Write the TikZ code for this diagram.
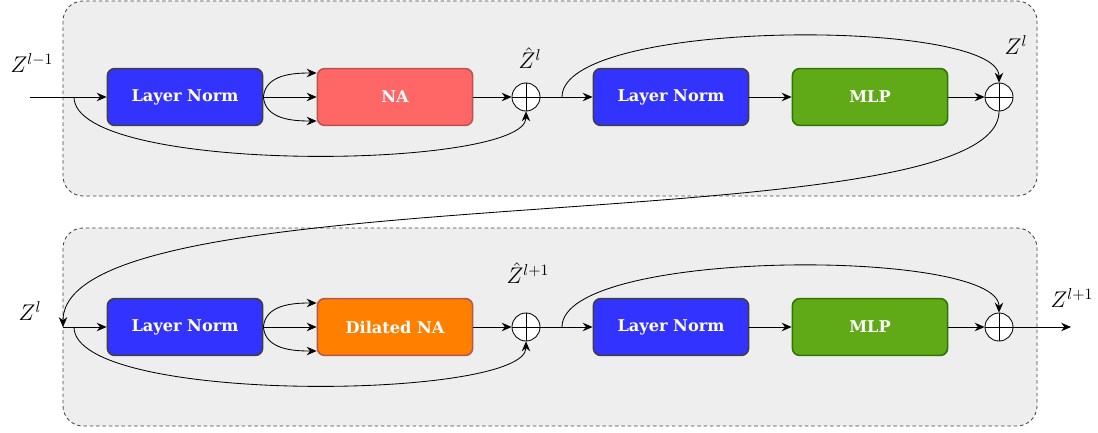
\documentclass[tikz,border=0pt]{standalone}
\usepackage{fontspec}
\newfontfamily\blockfont{DejaVu Serif}
\usetikzlibrary{arrows.meta}
\definecolor{lnfill}{HTML}{3333FF}
\definecolor{lnline}{HTML}{3F3F3F}
\definecolor{nafill}{HTML}{FF6666}
\definecolor{naline}{HTML}{B85450}
\definecolor{dnafill}{HTML}{FF8000}
\definecolor{mlpfill}{HTML}{60A917}
\definecolor{mlpline}{HTML}{2D7600}
\definecolor{panelfill}{HTML}{EEEEEE}
\definecolor{panelline}{HTML}{444444}
\tikzset{
  block/.style={rounded corners=0.18cm, line width=1.1pt, minimum width=3.88cm,
    minimum height=1.42cm, text=white, inner sep=0pt,
    font=\blockfont\bfseries\fontsize{11.5}{14}\selectfont},
  lnblock/.style={block, draw=lnline, fill=lnfill},
  nablock/.style={block, draw=naline, fill=nafill},
  dnablock/.style={block, draw=naline, fill=dnafill},
  mlpblock/.style={block, draw=mlpline, fill=mlpfill},
  plusnode/.style={circle, draw, fill=white, line width=0.6pt, minimum size=0.7cm, inner sep=0pt},
  panel/.style={draw=panelline, fill=panelfill, dash pattern=on 2.5pt off 2pt,
    line width=0.6pt, rounded corners=0.5cm},
  conn/.style={line width=0.6pt, -{Stealth[length=7pt,width=6pt]}},
  lbl/.style={font=\Large, scale=1.12, inner sep=0pt},
}
\begin{document}
\begin{tikzpicture}[x=0.025cm, y=-0.025cm]
  \useasboundingbox (0,0) rectangle (1098,433);

  % Panels
  \draw [panel] (63,1) rectangle (1037,196);
  \draw [panel] (63,228) rectangle (1037,426);

  % Upper block: neighborhood attention
  \node [lnblock] (ln1) at (185,97) {Layer Norm};
  \node [nablock] (na) at (395,97) {NA};
  \node [plusnode] (add1) at (526,97) {};
  \node [lnblock] (ln2) at (671,97) {Layer Norm};
  \node [mlpblock] (mlp1) at (870,97) {MLP};
  \node [plusnode] (add2) at (999,97) {};

  % Lower block: dilated neighborhood attention
  \node [lnblock] (ln3) at (185,327) {Layer Norm};
  \node [dnablock] (dna) at (395,327) {Dilated NA};
  \node [plusnode] (add3) at (526,327) {};
  \node [lnblock] (ln4) at (671,327) {Layer Norm};
  \node [mlpblock] (mlp2) at (870,327) {MLP};
  \node [plusnode] (add4) at (999,327) {};

  % Crosses in the adders
  \foreach \p in {add1,add2,add3,add4}
    \draw [line width=0.6pt] (\p.north) -- (\p.south) (\p.west) -- (\p.east);

  % Labels
  \node [lbl] (zin) at (32,63) {$Z^{l-1}$};
  \node [lbl] (zhat1) at (530,58) {$\hat{Z}^{l}$};
  \node [lbl] (zmid) at (1016,45) {$Z^{l}$};
  \node [lbl] (zmid2) at (30,311) {$Z^{l}$};
  \node [lbl] (zhat2) at (528,273) {$\hat{Z}^{l+1}$};
  \node [lbl] (zout) at (1072,298) {$Z^{l+1}$};

  % Free ends and branch points
  \coordinate (in) at (30,97);
  \coordinate (b1) at (74,97);
  \coordinate (b2) at (562,97);
  \coordinate (in2) at (63,327);
  \coordinate (b3) at (74,327);
  \coordinate (b4) at (562,327);
  \coordinate (out) at (1071,327);

  % Upper connectors
  \draw [conn] (in) -- (ln1.west);
  \draw [conn] (ln1.east) -- (na.west);
  \draw [conn] (ln1.east) to[out=85, in=180] ([yshift=0.6cm]na.west);
  \draw [conn] (ln1.east) to[out=-85, in=180] ([yshift=-0.6cm]na.west);
  \draw [conn] (na.east) -- (add1.west);
  \draw [conn] (b1) .. controls (74,175) and (526,170) .. (add1.south);
  \draw [conn] (add1.east) -- (ln2.west);
  \draw [conn] (ln2.east) -- (mlp1.west);
  \draw [conn] (mlp1.east) -- (add2.west);
  \draw [conn] (b2) .. controls (562,18) and (999,18) .. (add2.north);

  % Link between the blocks
  \draw [conn] (add2.south) .. controls (999,245) and (63,170) .. (in2);

  % Lower connectors
  \draw [conn] (in2) -- (ln3.west);
  \draw [conn] (ln3.east) -- (dna.west);
  \draw [conn] (ln3.east) to[out=85, in=180] ([yshift=0.6cm]dna.west);
  \draw [conn] (ln3.east) to[out=-85, in=180] ([yshift=-0.6cm]dna.west);
  \draw [conn] (dna.east) -- (add3.west);
  \draw [conn] (b3) .. controls (74,405) and (526,400) .. (add3.south);
  \draw [conn] (add3.east) -- (ln4.west);
  \draw [conn] (ln4.east) -- (mlp2.west);
  \draw [conn] (mlp2.east) -- (add4.west);
  \draw [conn] (b4) .. controls (562,248) and (999,248) .. (add4.north);
  \draw [conn] (add4.east) -- (out);
\end{tikzpicture}
\end{document}
